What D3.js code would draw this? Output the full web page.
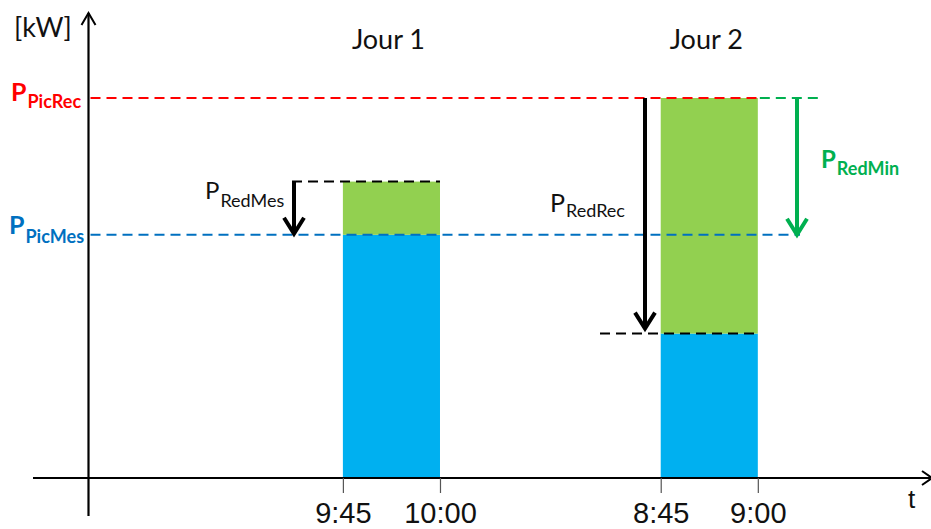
<!DOCTYPE html>
<html>
<head>
<meta charset="utf-8">
<script src="https://cdn.jsdelivr.net/npm/d3@7"></script>
<style>
  html, body { margin: 0; padding: 0; background: #fff; }
  svg { display: block; }
</style>
</head>
<body>
<svg id="chart" width="931" height="529"></svg>
<script>
// ---- data ----
const days = ["Jour 1", "Jour 2"];
const slotStart = [39.3, 88.4];          // x position (minutes on compressed axis) of each 15-min slot
const slotLength = 15;                    // minutes
const tickLabels = ["9:45", "10:00", "8:45", "9:00"];
const tickValues = [39.3, 54.3, 88.4, 103.4];
const measuredPower = [64, 38];           // blue part top (kW, arbitrary units)
const peakPower = [78, 100];              // green part top
const pPicRec = 100;
const pPicMes = 64;

// ---- layout ----
const svg = d3.select("#chart");
const x = d3.scaleLinear().domain([0, 130]).range([88.5, 930]);
const y = d3.scaleLinear().domain([0, 100]).range([478, 98]);

const bw = x(slotLength) - x(0);
const colBlue = "#00B0F0", colGreen = "#92D050", colRed = "#FF0000",
      colDarkBlue = "#0070C0", colArrowGreen = "#00B050";

// bars
const g = svg.append("g");
days.forEach((d, i) => {
  g.append("rect").attr("x", x(slotStart[i])).attr("width", bw)
    .attr("y", y(measuredPower[i])).attr("height", y(0) - y(measuredPower[i]))
    .attr("fill", colBlue);
  g.append("rect").attr("x", x(slotStart[i])).attr("width", bw)
    .attr("y", y(peakPower[i])).attr("height", y(measuredPower[i]) - y(peakPower[i]))
    .attr("fill", colGreen);
});

// dashed lines
function dash(x1, x2, yv, color) {
  svg.append("line").attr("x1", x1).attr("x2", x2)
    .attr("y1", y(yv)).attr("y2", y(yv))
    .attr("stroke", color).attr("stroke-width", 2)
    .attr("stroke-dasharray", "10,6");
}
dash(x(0) + 2, x(slotStart[1] + slotLength), pPicRec, colRed);
dash(x(slotStart[1] + slotLength) + 2, 820, pPicRec, colArrowGreen);
dash(x(0) + 2, 800, pPicMes, colDarkBlue);
dash(292, x(slotStart[0] + slotLength), peakPower[0], "#000");
dash(600, x(slotStart[1] + slotLength), measuredPower[1], "#000");

// arrows
function arrow(xp, yTop, yTip, color) {
  svg.append("line").attr("x1", xp).attr("x2", xp)
    .attr("y1", yTop).attr("y2", yTip - 2)
    .attr("stroke", color).attr("stroke-width", 4);
  svg.append("path")
    .attr("d", `M${xp - 10},${yTip - 16}L${xp},${yTip}L${xp + 10},${yTip - 16}`)
    .attr("fill", "none").attr("stroke", color).attr("stroke-width", 4)
    .attr("stroke-linejoin", "miter").attr("stroke-linecap", "butt");
}
arrow(294, y(peakPower[0]), y(pPicMes) - 1, "#000");
arrow(645, y(pPicRec), y(measuredPower[1]) - 5, "#000");
arrow(797, y(pPicRec), y(pPicMes), colArrowGreen);

// axes
svg.append("line").attr("x1", 33).attr("x2", 930).attr("y1", y(0)).attr("y2", y(0))
  .attr("stroke", "#000").attr("stroke-width", 2.2);
svg.append("line").attr("x1", x(0)).attr("x2", x(0)).attr("y1", 516).attr("y2", 13)
  .attr("stroke", "#000").attr("stroke-width", 2.2);
svg.append("path").attr("d", `M${x(0) - 7},25L${x(0)},13L${x(0) + 7},25`)
  .attr("fill", "none").attr("stroke", "#000").attr("stroke-width", 2);
svg.append("path").attr("d", `M922,471L932,${y(0)}L922,485`)
  .attr("fill", "none").attr("stroke", "#000").attr("stroke-width", 2);

const xAxis = d3.axisBottom(x).tickValues(tickValues)
  .tickFormat((d, i) => tickLabels[i]).tickSize(15).tickPadding(9);
const ax = svg.append("g").attr("transform", `translate(0,${y(0)})`).call(xAxis);
ax.select(".domain").remove();
ax.selectAll(".tick line").attr("stroke", "#555").attr("stroke-width", 1.2);
ax.selectAll(".tick text").attr("font-family", "Liberation Sans, Arial, sans-serif")
  .attr("font-size", 29).attr("fill", "#111");

// texts
const font = "Lato, Carlito, Calibri, sans-serif";
svg.append("text").attr("x", 14).attr("y", 37).attr("font-family", font)
  .attr("font-size", 27).attr("fill", "#111").text("[kW]");
days.forEach((d, i) => {
  svg.append("text").attr("x", x(slotStart[i] + slotLength / 2) - 3).attr("y", 49)
    .attr("text-anchor", "middle").attr("font-family", font)
    .attr("font-size", 27).attr("fill", "#111").text(d);
});
svg.append("text").attr("x", 908).attr("y", 508).attr("font-family", "Liberation Sans, Arial, sans-serif")
  .attr("font-size", 26).attr("fill", "#111").text("t");

function plabel(xp, yp, sub, color, bold, big, small, dy) {
  const t = svg.append("text").attr("x", xp).attr("y", yp).attr("font-family", font)
    .attr("fill", color).attr("font-weight", bold ? "bold" : "normal");
  t.append("tspan").attr("font-size", big).text("P");
  t.append("tspan").attr("font-size", small).attr("dy", dy).attr("dx", 1).text(sub);
}
plabel(11, 101, "PicRec", colRed, true, 25, 18, 7);
plabel(9, 234, "PicMes", colDarkBlue, true, 25, 18, 9);
plabel(205, 199, "RedMes", "#111", false, 24, 18, 8);
plabel(550, 212, "RedRec", "#111", false, 25, 18, 5);
plabel(821, 168, "RedMin", colArrowGreen, true, 24, 18, 7);
</script>
</body>
</html>
